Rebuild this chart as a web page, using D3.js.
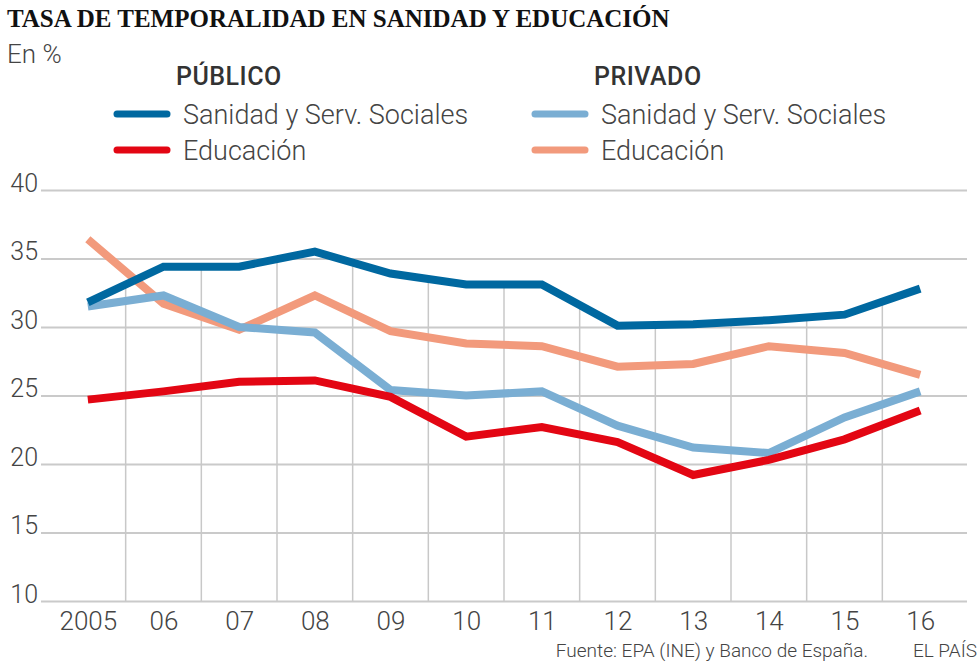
<!DOCTYPE html>
<html>
<head>
<meta charset="utf-8">
<script src="https://cdn.jsdelivr.net/npm/d3@7"></script>
<style>
  body { margin: 0; background: #fff; }
  svg { display: block; }
</style>
</head>
<body>
<div id="chart"></div>
<script>
// Data
const years = ["2005", "06", "07", "08", "09", "10", "11", "12", "13", "14", "15", "16"];
const publicoSanidad = [31.8, 34.4, 34.4, 35.5, 33.9, 33.1, 33.1, 30.1, 30.2, 30.5, 30.9, 32.8];
const publicoEducacion = [24.7, 25.3, 26.0, 26.1, 24.9, 22.0, 22.7, 21.6, 19.2, 20.3, 21.8, 23.9];
const privadoSanidad = [31.5, 32.3, 30.0, 29.6, 25.4, 25.0, 25.3, 22.8, 21.2, 20.8, 23.4, 25.3];
const privadoEducacion = [36.4, 31.7, 29.8, 32.3, 29.7, 28.8, 28.6, 27.1, 27.3, 28.6, 28.1, 26.5];
const yTicks = [10, 15, 20, 25, 30, 35, 40];

const series = [
    { name: "Privado Educación", values: privadoEducacion, color: "#f29a7c" },
    { name: "Privado Sanidad", values: privadoSanidad, color: "#7aaed3" },
    { name: "Público Educación", values: publicoEducacion, color: "#e30613" },
    { name: "Público Sanidad", values: publicoSanidad, color: "#0068a0" }
];

const width = 980, height = 665;
const textColor = "#444";

let svg = d3.select("#chart").append("svg")
    .attr("width", width)
    .attr("height", height);

// Scales
let x = d3.scalePoint()
    .domain(years)
    .range([50, 958])
    .padding(0.5);

let y = d3.scaleLinear()
    .domain([10, 40])
    .range([601, 190]);

// Title and subtitle
svg.append("text")
    .attr("x", 7)
    .attr("y", 27)
    .text("TASA DE TEMPORALIDAD EN SANIDAD Y EDUCACIÓN")
    .style("font-family", "'Liberation Serif', serif")
    .style("font-weight", "bold")
    .style("font-size", "25px")
    .style("fill", "#111");

svg.append("text")
    .attr("x", 7)
    .attr("y", 63)
    .text("En %")
    .style("font-family", "Roboto, sans-serif")
    .style("font-weight", 300)
    .style("font-size", "26px")
    .style("fill", textColor);

// Horizontal gridlines + y labels
let yAxis = svg.append("g")
    .attr("transform", "translate(41,0)")
    .call(d3.axisLeft(y).tickValues(yTicks).tickSize(-(967 - 41)).tickPadding(3));
yAxis.select(".domain").remove();
yAxis.selectAll(".tick line")
    .attr("stroke", "#cacaca")
    .attr("stroke-width", 2);
yAxis.selectAll(".tick text")
    .attr("dy", "0.05em")
    .style("font-family", "Roboto, sans-serif")
    .style("font-weight", 300)
    .style("font-size", "25px")
    .style("fill", textColor);

// Vertical separators between years, running up to the público sanidad line
let step = x.step();
for (let i = 0; i < years.length - 1; i++) {
    let sx = x(years[i]) + step / 2;
    let topVal = (publicoSanidad[i] + publicoSanidad[i + 1]) / 2;
    svg.append("line")
        .attr("x1", sx)
        .attr("x2", sx)
        .attr("y1", y(10))
        .attr("y2", y(topVal))
        .attr("stroke", "#c8c8c8")
        .attr("stroke-width", 1.5);
}

// X labels
let xAxis = svg.append("g")
    .attr("transform", `translate(0,${y(10)})`)
    .call(d3.axisBottom(x).tickSize(0).tickPadding(7));
xAxis.select(".domain").remove();
xAxis.selectAll(".tick text")
    .attr("dy", "0.85em")
    .style("font-family", "Roboto, sans-serif")
    .style("font-weight", 300)
    .style("font-size", "26px")
    .style("fill", textColor);

// Lines
let line = d3.line()
    .x((d, i) => x(years[i]))
    .y(d => y(d));

series.forEach(s => {
    svg.append("path")
        .datum(s.values)
        .attr("d", line)
        .attr("fill", "none")
        .attr("stroke", s.color)
        .attr("stroke-width", 8)
        .attr("stroke-linejoin", "miter");
});

// Legend
const legendGroups = [
    { title: "PÚBLICO", x: 114, items: [["Sanidad y Serv. Sociales", "#0068a0"], ["Educación", "#e30613"]] },
    { title: "PRIVADO", x: 532, items: [["Sanidad y Serv. Sociales", "#7aaed3"], ["Educación", "#f29a7c"]] }
];

legendGroups.forEach(g => {
    svg.append("text")
        .attr("x", g.x + 62)
        .attr("y", 85)
        .text(g.title)
        .style("font-family", "Roboto, sans-serif")
        .style("font-weight", 500)
        .style("font-size", "25px")
        .style("letter-spacing", "0.5px")
        .style("fill", "#333");

    g.items.forEach((item, i) => {
        let ly = 114 + i * 36;
        svg.append("line")
            .attr("x1", g.x + 3)
            .attr("x2", g.x + 53)
            .attr("y1", ly)
            .attr("y2", ly)
            .attr("stroke", item[1])
            .attr("stroke-width", 7)
            .attr("stroke-linecap", "round");
        svg.append("text")
            .attr("x", g.x + 69)
            .attr("y", ly + 10)
            .text(item[0])
            .style("font-family", "Roboto, sans-serif")
            .style("font-weight", 300)
            .style("font-size", "27px")
            .style("fill", textColor);
    });
});

// Source and credit
svg.append("text")
    .attr("x", 868)
    .attr("y", 657)
    .attr("text-anchor", "end")
    .text("Fuente: EPA (INE) y Banco de España.")
    .style("font-family", "Roboto, sans-serif")
    .style("font-weight", 300)
    .style("font-size", "19px")
    .style("fill", textColor);

svg.append("text")
    .attr("x", 977)
    .attr("y", 657)
    .attr("text-anchor", "end")
    .text("EL PAÍS")
    .style("font-family", "Roboto, sans-serif")
    .style("font-weight", 300)
    .style("font-size", "19px")
    .style("fill", textColor);
</script>
</body>
</html>
